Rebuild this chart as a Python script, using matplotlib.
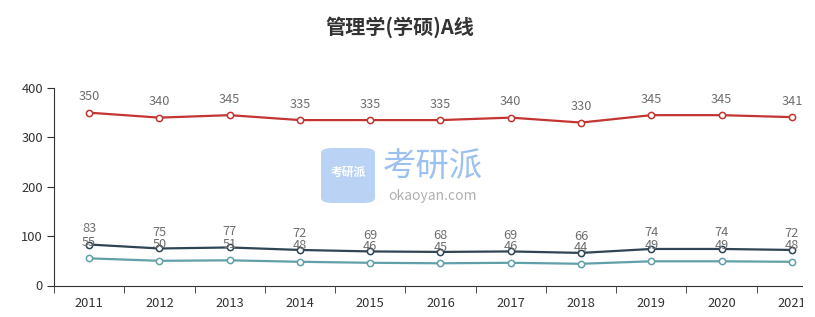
import matplotlib
matplotlib.use("Agg")
import matplotlib.pyplot as plt
from matplotlib.patches import FancyBboxPatch, Rectangle

plt.rcParams['font.family'] = ['Noto Sans CJK SC', 'DejaVu Sans']

years = ['2011', '2012', '2013', '2014', '2015', '2016', '2017', '2018', '2019', '2020', '2021']
total = [350, 340, 345, 335, 335, 335, 340, 330, 345, 345, 341]
single_a = [83, 75, 77, 72, 69, 68, 69, 66, 74, 74, 72]
single_b = [55, 50, 51, 48, 46, 45, 46, 44, 49, 49, 48]

colors = ['#c23531', '#2f4554', '#61a0a8']
series = [total, single_a, single_b]

W, H = 815, 317
fig = plt.figure(figsize=(W / 100, H / 100), dpi=100)
ax = fig.add_axes([54 / W, 31.5 / H, 773 / W, 197.5 / H])

x = list(range(len(years)))
for vals, c in zip(series, colors):
    ax.plot(x, vals, color=c, lw=1.6, marker='o', markersize=4.5,
            markerfacecolor='white', markeredgecolor=c, markeredgewidth=1.1,
            zorder=3, clip_on=False)
for vals, c in zip(series, colors):
    for xi, v in zip(x, vals):
        ax.annotate(str(v), (xi, v), xytext=(0, 16), textcoords='offset pixels',
                    ha='center', va='center', fontsize=9.2, color='#6e6e6e',
                    zorder=5, annotation_clip=False)

ax.set_xlim(-0.5, len(years) - 0.5)
ax.set_ylim(0, 400)
ax.set_yticks([0, 100, 200, 300, 400])
ax.set_xticks(x)
ax.set_xticklabels(years)
ax.set_xticks([i - 0.5 for i in range(len(years) + 1)], minor=True)
ax.tick_params(axis='x', which='major', length=0, pad=8, labelsize=9.3, colors='#333333')
ax.tick_params(axis='x', which='minor', length=5, color='#333333', direction='out')
ax.tick_params(axis='y', length=5, color='#333333', labelsize=9.3, labelcolor='#333333', pad=3)
for s in ['top', 'right']:
    ax.spines[s].set_visible(False)
ax.spines['left'].set_color('#333333')
ax.spines['bottom'].set_color('#333333')

fig.text(400 / W, 1 - 27 / H, '管理学(学硕)A线', ha='center', va='center',
         fontsize=14.5, fontweight='bold', color='#333333')

# watermark
logo = FancyBboxPatch((321 / W, 1 - 203 / H), 54 / W, 55 / H,
                      boxstyle='round,pad=0,rounding_size=0.015',
                      transform=fig.transFigure, facecolor='#a9c9f3',
                      edgecolor='none', alpha=0.8, zorder=1)
fig.patches.append(logo)
fig.text(348 / W, 1 - 172 / H, '考研派', ha='center', va='center', fontsize=8.5,
         fontweight='bold', color='white', zorder=2)
fig.text(433 / W, 1 - 167 / H, '考研派', ha='center', va='center', fontsize=24,
         color='#9cc0ef', zorder=2)
fig.text(432 / W, 1 - 196 / H, 'okaoyan.com', ha='center', va='center', fontsize=10,
         color='#b0b0b0', zorder=2)

# cropped right edge
fig.patches.append(Rectangle((803 / W, 0), 1, 1, transform=fig.transFigure,
                             facecolor='white', edgecolor='none', zorder=10))

fig.savefig('out.png', dpi=100)
